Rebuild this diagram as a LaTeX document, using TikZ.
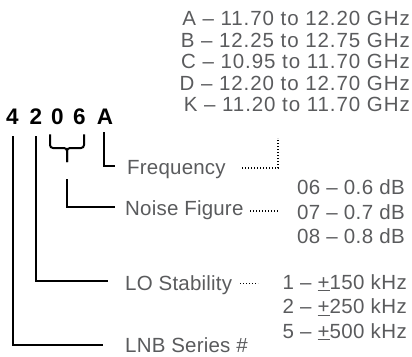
\documentclass[tikz,border=0pt]{standalone}
\usepackage{fontspec}
\setmainfont{Liberation Sans}
\newfontfamily\freqfont[LetterSpace=4.5]{Liberation Sans}
\newfontfamily\valfont[LetterSpace=2]{Liberation Sans}
\newfontfamily\lblfont[LetterSpace=1]{Liberation Sans}
\definecolor{txt}{HTML}{5A5B5D}
\begin{document}
\begin{tikzpicture}[x=1pt,y=-1pt,
  lbl/.style={font=\lblfont\fontsize{20.5}{24}\selectfont, text=txt, inner sep=0pt, anchor=base west},
  val/.style={font=\valfont\fontsize{20.5}{24}\selectfont, text=txt, inner sep=0pt, anchor=base east},
  fval/.style={font=\freqfont\fontsize{20.5}{24}\selectfont, text=txt, inner sep=0pt, anchor=base east},
  dig/.style={font=\fontsize{22.5}{26}\selectfont\bfseries, inner sep=0pt, anchor=base},
  conn/.style={line width=2pt, black},
  lead/.style={line width=1.3pt, black, dash pattern=on 1.3pt off 1.7pt}]
\useasboundingbox (0,0) rectangle (412,356);
% part number digits
\node[dig] (d4) at (12.5,124) {4};
\node[dig] (d2) at (36,124) {2};
\node[dig] (d0) at (57.5,124) {0};
\node[dig] (d6) at (79.5,124) {6};
\node[dig] (dA) at (105,124) {A};
% frequency list
\node[fval] (fa) at (410,25.5) {A – 11.70 to 12.20 GHz};
\node[fval] (fb) at (410,47) {B – 12.25 to 12.75 GHz};
\node[fval] (fc) at (410,68.5) {C – 10.95 to 11.70 GHz};
\node[fval] (fd) at (410,90) {D – 12.20 to 12.70 GHz};
\node[fval] (fk) at (410,111.5) {K – 11.20 to 11.70 GHz};
% labels
\node[lbl] (freq) at (127,174.5) {Frequency};
\node[lbl] (nf) at (125,215) {Noise Figure};
\node[lbl] (lo) at (125,290) {LO Stability};
\node[lbl] (lnb) at (125,352) {LNB Series \#};
% noise figure values
\node[val] (n6) at (405,194.5) {06 – 0.6 dB};
\node[val] (n7) at (405,219) {07 – 0.7 dB};
\node[val] (n8) at (405,243.5) {08 – 0.8 dB};
% LO stability values
\node[val] (l1) at (407,289) {1 – \underline{+}150 kHz};
\node[val] (l2) at (407,313.5) {2 – \underline{+}250 kHz};
\node[val] (l5) at (407,338) {5 – \underline{+}500 kHz};
% connector ends
\coordinate (lnbend) at (103,345);
\coordinate (loend) at (108,281);
\coordinate (brmid) at (67,148);
\coordinate (brtip) at (67,162);
\coordinate (nfstart) at (67,179);
\coordinate (nfend) at (115,206.7);
\coordinate (freqend) at (115,166);
\coordinate (fqtop) at (278,138);
\coordinate (fqdot) at (242,168);
\coordinate (nfdot) at (250,211);
\coordinate (nfdotend) at (279,211);
\coordinate (lodot) at (240,283.3);
\coordinate (lodotend) at (258,283.3);
% solid connectors
\draw[conn] ([yshift=-12pt]d4.south) |- (lnbend);
\draw[conn] ([yshift=-12pt]d2.south) |- (loend);
\draw[conn, rounded corners=3pt] ([xshift=-7.5pt,yshift=-10pt]d0.south) |- (brmid) -- (brtip);
\draw[conn, rounded corners=3pt] ([xshift=4.5pt,yshift=-10pt]d6.south) |- (brmid) -- (brtip);
\draw[conn] (nfstart) |- (nfend);
\draw[conn] ([xshift=-1pt,yshift=-8pt]dA.south) |- (freqend);
% dotted leaders
\draw[lead] (fqdot) -| (fqtop);
\draw[lead] (nfdot) -- (nfdotend);
\draw[lead] (lodot) -- (lodotend);
\end{tikzpicture}
\end{document}
